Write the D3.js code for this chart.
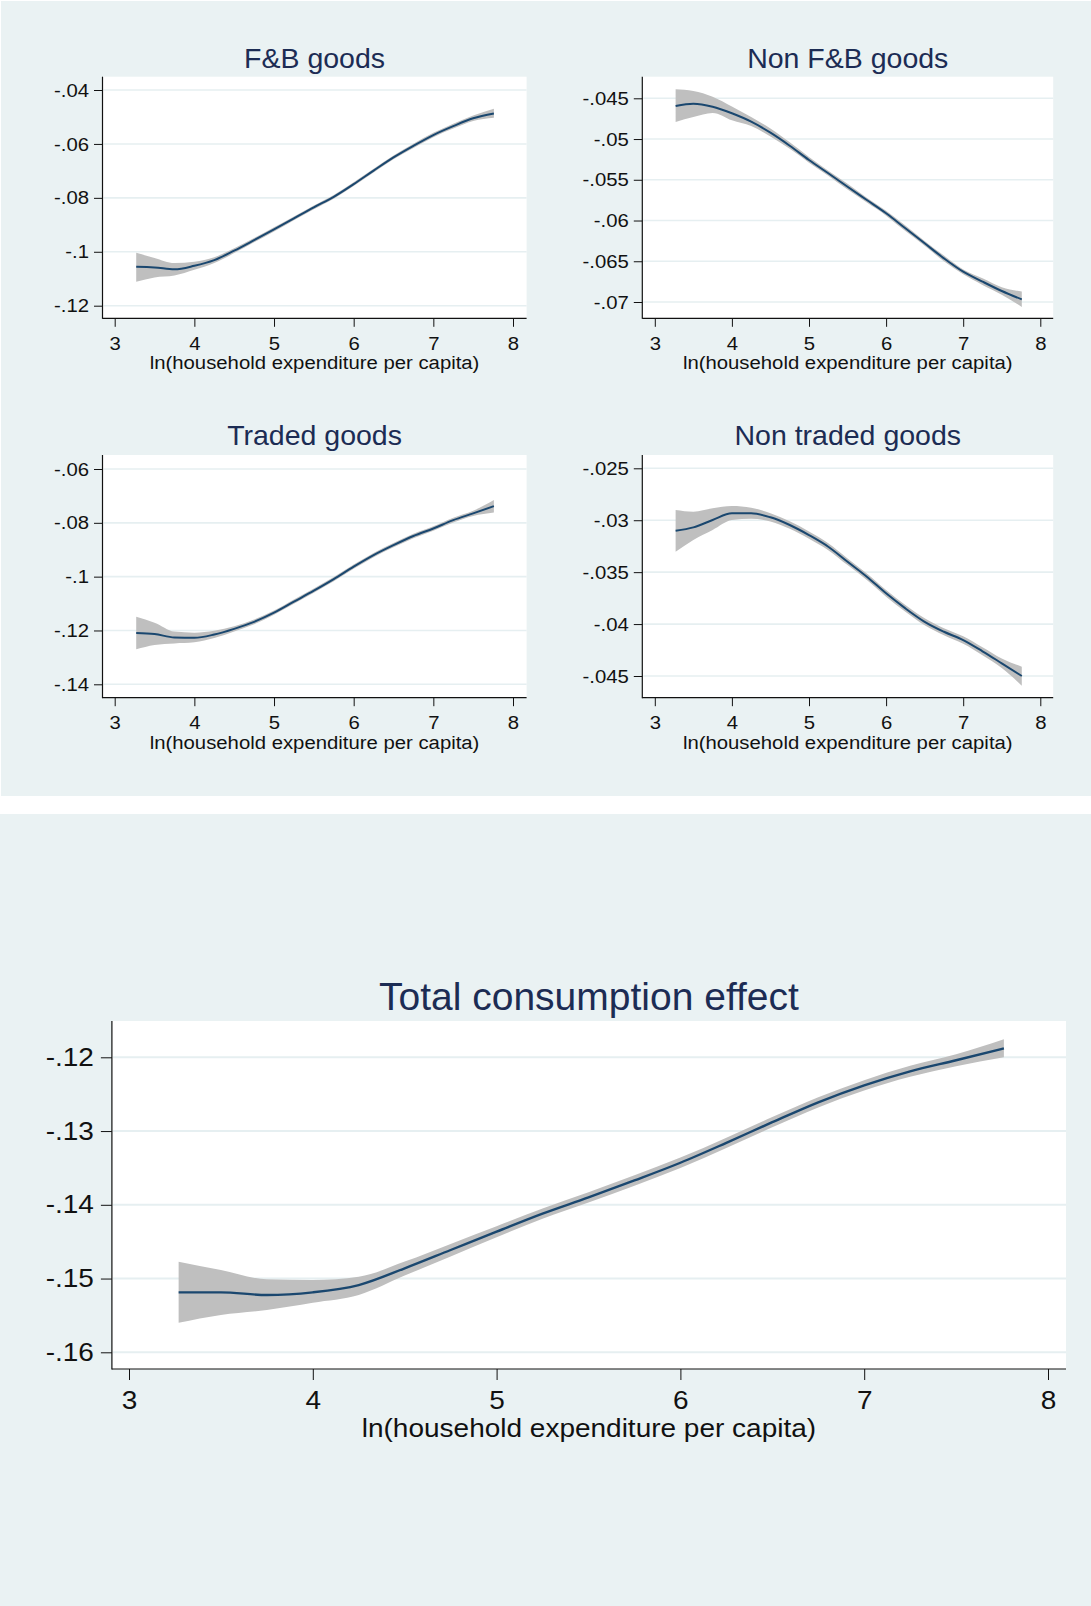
<!DOCTYPE html>
<html>
<head>
<meta charset="utf-8">
<script src="https://cdn.jsdelivr.net/npm/d3@7"></script>
<style>
  html, body { margin: 0; padding: 0; background: #ffffff; }
  svg { display: block; }
  text { font-family: "Liberation Sans", Arial, Helvetica, sans-serif; }
</style>
</head>
<body>
<svg id="chart" width="1091" height="1606"></svg>
<script>
// ln(household expenditure per capita) grid at which the local polynomial fits are evaluated
const xGrid = [3.27, 3.5, 3.75, 4.0, 4.25, 4.5, 4.75, 5.0, 5.25, 5.5, 5.75, 6.0, 6.25, 6.5, 6.75, 7.0, 7.25, 7.5, 7.76];

// F&B goods: fit and 95% band
const fbFit = [-.1056, -.1058, -.1065, -.1052, -.1031, -.0996, -.0957, -.0917, -.0876, -.0835, -.0796, -.0749, -.0699, -.0650, -.0607, -.0567, -.0534, -.0505, -.0487];
const fbLo  = [-.1111, -.1095, -.1088, -.1067, -.1042, -.1005, -.0965, -.0925, -.0883, -.0842, -.0803, -.0756, -.0706, -.0657, -.0615, -.0575, -.0543, -.0515, -.0503];
const fbHi  = [-.1004, -.1023, -.1042, -.1037, -.1020, -.0987, -.0949, -.0909, -.0869, -.0828, -.0789, -.0742, -.0692, -.0643, -.0599, -.0559, -.0525, -.0495, -.0470];

// Non F&B goods
const nfbFit = [-.04595, -.04566, -.04603, -.04684, -.04787, -.04922, -.05082, -.05257, -.0542, -.05585, -.05748, -.05911, -.06095, -.0628, -.06464, -.06628, -.0675, -.06865, -.06967];
const nfbLo  = [-.0479, -.0473, -.0468, -.0477, -.0484, -.0497, -.0512, -.0529, -.0545, -.0562, -.0578, -.0594, -.0613, -.0631, -.0650, -.0666, -.0679, -.0691, -.0706];
const nfbHi  = [-.0439, -.0441, -.0448, -.0460, -.0473, -.0487, -.0504, -.0522, -.0539, -.0555, -.0572, -.0588, -.0606, -.0625, -.0643, -.0660, -.0671, -.0682, -.0687];

// Traded goods
const trFit = [-.1209, -.1213, -.1226, -.1227, -.1215, -.1194, -.1168, -.1134, -.1093, -.1052, -.1009, -.0963, -.0920, -.0883, -.0849, -.0821, -.0790, -.0765, -.0738];
const trLo  = [-.1270, -.1254, -.1248, -.1244, -.1228, -.1204, -.1177, -.1142, -.1101, -.1060, -.1017, -.0971, -.0928, -.0891, -.0857, -.0829, -.0799, -.0775, -.0762];
const trHi  = [-.1149, -.1171, -.1204, -.1208, -.1201, -.1184, -.1159, -.1126, -.1085, -.1044, -.1001, -.0955, -.0912, -.0875, -.0841, -.0813, -.0781, -.0755, -.0715];

// Non traded goods
const ntFit = [-.03101, -.03069, -.02998, -.02934, -.02934, -.02972, -.03046, -.03143, -.03255, -.034, -.03544, -.03704, -.03849, -.03978, -.04074, -.04154, -.04262, -.04378, -.045];
const ntLo  = [-.03303, -.0319, -.03094, -.02998, -.02985, -.03012, -.03082, -.03178, -.03288, -.03432, -.03576, -.03736, -.03881, -.04012, -.04108, -.04190, -.04300, -.04424, -.04594];
const ntHi  = [-.02902, -.02918, -.02885, -.02863, -.02880, -.02932, -.03010, -.03108, -.03222, -.03368, -.03512, -.03672, -.03817, -.03944, -.04040, -.04118, -.04224, -.04332, -.04411];

// Total consumption effect
const totFit = [-.15187, -.15187, -.15223, -.15187, -.15088, -.14861, -.14613, -.14365, -.14120, -.13900, -.13670, -.13430, -.13160, -.12880, -.12610, -.12380, -.12190, -.12040, -.11880];
const totLo  = [-.15599, -.15494, -.15426, -.15328, -.15223, -.14960, -.14700, -.14440, -.14190, -.13970, -.13740, -.13500, -.13230, -.12950, -.12680, -.12450, -.12265, -.12120, -.12000];
const totHi  = [-.14771, -.14884, -.15010, -.15020, -.14975, -.14770, -.14530, -.14290, -.14050, -.13830, -.13600, -.13360, -.13090, -.12810, -.12540, -.12310, -.12115, -.11960, -.11756];

// Axis ticks
const xTicks = [3, 4, 5, 6, 7, 8];
const fbTicks  = [-.04, -.06, -.08, -.1, -.12];
const nfbTicks = [-.045, -.05, -.055, -.06, -.065, -.07];
const trTicks  = [-.06, -.08, -.1, -.12, -.14];
const ntTicks  = [-.025, -.03, -.035, -.04, -.045];
const totTicks = [-.12, -.13, -.14, -.15, -.16];

const titles = ["F&B goods", "Non F&B goods", "Traded goods", "Non traded goods", "Total consumption effect"];
const xTitle = "ln(household expenditure per capita)";

// Styling
const BG = "#eaf2f3";
const GRID = "#e6eff1";
const LINE = "#1a476f";
const BAND = "#bfbfbf";
const TITLE = "#1c2c54";
const INK = "#111111";

const svg = d3.select("#chart");

// Graph regions: small-multiple block on top, combined panel below
svg.append("rect").attr("x", 0).attr("y", 0).attr("width", 1091).attr("height", 1606).attr("fill", "#ffffff");
svg.append("rect").attr("x", 1).attr("y", 1).attr("width", 1090).attr("height", 795).attr("fill", BG);
svg.append("rect").attr("x", 0).attr("y", 814).attr("width", 1091).attr("height", 792).attr("fill", BG);

// Stata-style tick label: drop the leading zero
const fmt = v => String(v).replace("0.", ".");

function panel(cfg) {
  const { frame, xr, yd, yr, yTicks, fit, lo, hi, title, fs } = cfg;
  const x = d3.scaleLinear().domain([3, 8]).range(xr);
  const y = d3.scaleLinear().domain(yd).range(yr);
  const sx = fs.stretch;
  const g = svg.append("g");

  // plot region
  g.append("rect")
    .attr("x", frame.x0).attr("y", frame.y0)
    .attr("width", frame.x1 - frame.x0).attr("height", frame.y1 - frame.y0)
    .attr("fill", "#ffffff");

  // horizontal gridlines
  g.selectAll("line.grid").data(yTicks).join("line")
    .attr("class", "grid")
    .attr("x1", frame.x0 + 1).attr("x2", frame.x1)
    .attr("y1", d => y(d)).attr("y2", d => y(d))
    .attr("stroke", GRID).attr("stroke-width", fs.grid);

  const pts = xGrid.map((v, i) => ({ x: v, f: fit[i], lo: lo[i], hi: hi[i] }));

  // confidence band
  const area = d3.area()
    .x(d => x(d.x)).y0(d => y(d.lo)).y1(d => y(d.hi))
    .curve(d3.curveMonotoneX);
  g.append("path").datum(pts).attr("d", area).attr("fill", BAND);

  // fitted line
  const line = d3.line().x(d => x(d.x)).y(d => y(d.f)).curve(d3.curveMonotoneX);
  g.append("path").datum(pts).attr("d", line)
    .attr("fill", "none").attr("stroke", LINE).attr("stroke-width", fs.lw);

  // y axis
  const ya = g.append("g").attr("transform", `translate(${frame.x0},0)`)
    .call(d3.axisLeft(y).tickValues(yTicks).tickFormat(fmt)
      .tickSize(fs.tick).tickPadding(fs.pad));
  ya.select(".domain").remove();
  ya.selectAll(".tick line").attr("stroke", INK).attr("stroke-width", 1);
  ya.selectAll(".tick text").attr("font-size", fs.tickFont).attr("fill", INK)
    .attr("font-family", "'Liberation Sans', Arial, sans-serif")
    .attr("x", -(fs.tick + fs.pad) / sx)
    .attr("transform", `scale(${sx},1)`);

  // x axis
  const xa = g.append("g").attr("transform", `translate(0,${frame.y1})`)
    .call(d3.axisBottom(x).tickValues(xTicks).tickFormat(d3.format("d"))
      .tickSize(fs.tick));
  xa.select(".domain").remove();
  xa.selectAll(".tick line").attr("stroke", INK).attr("stroke-width", 1);
  xa.selectAll(".tick text").attr("font-size", fs.tickFont).attr("fill", INK)
    .attr("font-family", "'Liberation Sans', Arial, sans-serif")
    .attr("dy", null).attr("y", fs.xLab)
    .attr("transform", `scale(${sx},1)`);

  // axis lines spanning the plot region
  g.append("line").attr("x1", frame.x0).attr("x2", frame.x0)
    .attr("y1", frame.y0).attr("y2", frame.y1 + 0.5)
    .attr("stroke", INK).attr("stroke-width", 1.2);
  g.append("line").attr("x1", frame.x0).attr("x2", frame.x1)
    .attr("y1", frame.y1).attr("y2", frame.y1)
    .attr("stroke", INK).attr("stroke-width", 1.2);

  const cx = (frame.x0 + frame.x1) / 2;
  // axis title
  g.append("text").attr("x", cx / sx).attr("y", frame.y1 + fs.xTitle)
    .attr("transform", `scale(${sx},1)`)
    .attr("text-anchor", "middle").attr("font-size", fs.tickFont).attr("fill", INK)
    .text(xTitle);
  // panel title
  g.append("text").attr("x", cx).attr("y", frame.y0 - fs.titleGap)
    .attr("text-anchor", "middle").attr("font-size", fs.titleFont).attr("fill", TITLE)
    .text(title);
}

const small = { grid: 1.6, lw: 2, tick: 8.5, pad: 5, tickFont: 19, stretch: 1.07, xLab: 31.5, xTitle: 51, titleGap: 8.5, titleFont: 28.5 };
const big = { grid: 2, lw: 2.4, tick: 11, pad: 7, tickFont: 25, stretch: 1.12, xLab: 40.5, xTitle: 68.5, titleGap: 11.5, titleFont: 39 };

panel({ frame: { x0: 102.5, x1: 526.6, y0: 76.7, y1: 318.3 }, xr: [114.7, 513], yd: [-.12, -.04], yr: [305.7, 90],
        yTicks: fbTicks, fit: fbFit, lo: fbLo, hi: fbHi, title: titles[0], fs: small });
panel({ frame: { x0: 642.3, x1: 1053.2, y0: 76.7, y1: 318.3 }, xr: [654.8, 1040.3], yd: [-.07, -.045], yr: [302, 98.3],
        yTicks: nfbTicks, fit: nfbFit, lo: nfbLo, hi: nfbHi, title: titles[1], fs: small });
panel({ frame: { x0: 102.5, x1: 526.6, y0: 455, y1: 697.7 }, xr: [114.7, 513], yd: [-.14, -.06], yr: [684.3, 469],
        yTicks: trTicks, fit: trFit, lo: trLo, hi: trHi, title: titles[2], fs: Object.assign({}, small, { titleGap: 10 }) });
panel({ frame: { x0: 642.3, x1: 1053.2, y0: 455, y1: 697.7 }, xr: [654.8, 1040.3], yd: [-.045, -.025], yr: [676, 468.3],
        yTicks: ntTicks, fit: ntFit, lo: ntLo, hi: ntHi, title: titles[3], fs: Object.assign({}, small, { titleGap: 10 }) });
panel({ frame: { x0: 111.9, x1: 1066, y0: 1021, y1: 1369 }, xr: [129, 1048], yd: [-.16, -.12], yr: [1352.3, 1057.3],
        yTicks: totTicks, fit: totFit, lo: totLo, hi: totHi, title: titles[4], fs: big });
</script>
</body>
</html>
